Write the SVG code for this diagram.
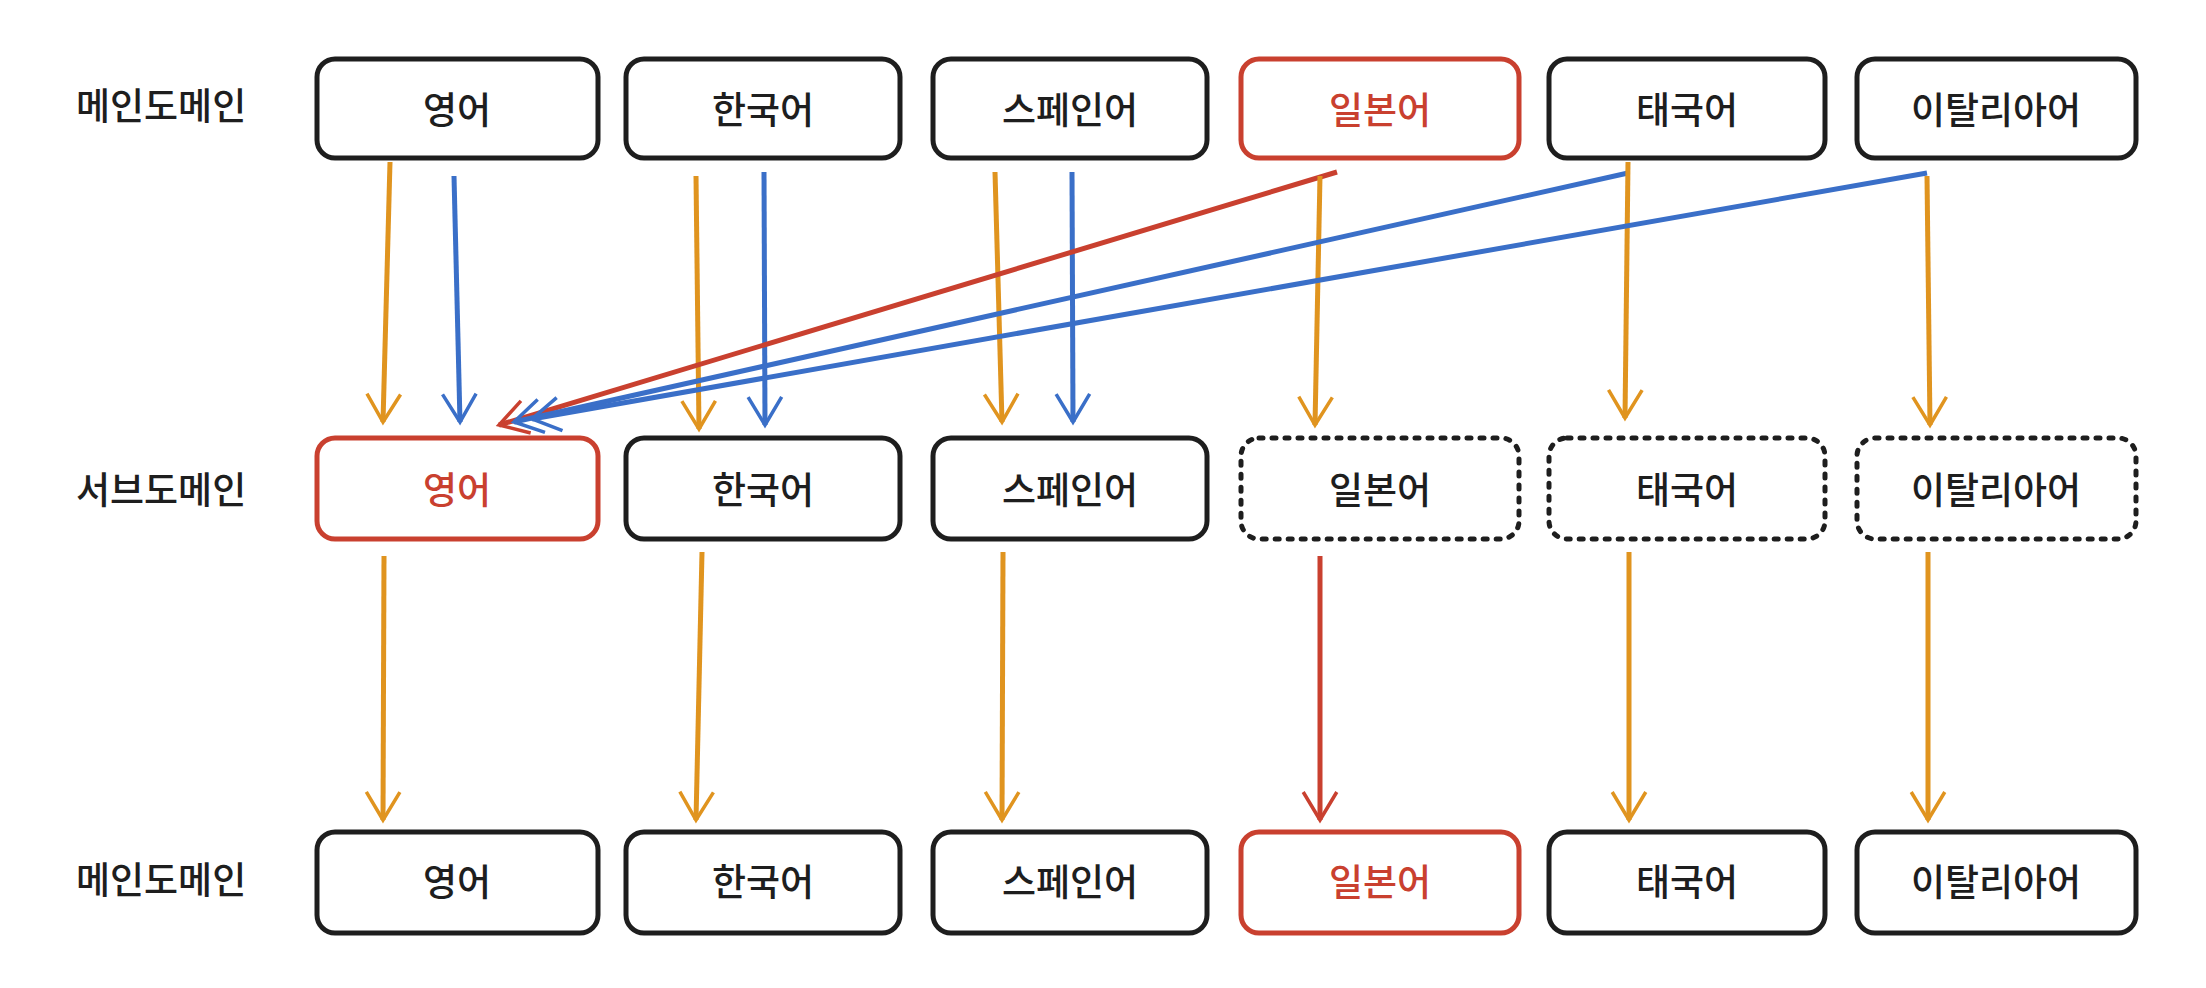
<svg xmlns="http://www.w3.org/2000/svg" width="2206" height="988" viewBox="0 0 2206 988">
<style>
.b{fill:#fff;stroke:#1e1e1e;stroke-width:5}
.r{fill:#fff;stroke:#c9402f;stroke-width:5}
.d{fill:#fff;stroke:#1e1e1e;stroke-width:5;stroke-dasharray:4 9;stroke-linecap:round}
text{font-family:"Noto Sans CJK KR",sans-serif;font-size:37px;font-weight:500;text-anchor:middle;dominant-baseline:central;fill:#1e1e1e}
.rt{fill:#c9402f}
.lab{text-anchor:start}
.o{stroke:#e0941f;stroke-width:5;fill:none;marker-end:url(#mo)}
.bl{stroke:#3a6fc8;stroke-width:5;fill:none;marker-end:url(#mb)}
.rd{stroke:#c9402f;stroke-width:5;fill:none;marker-end:url(#mr)}
</style>
<defs>
<marker id="mo" viewBox="0 0 20 20" refX="18" refY="10" markerWidth="14" markerHeight="14" markerUnits="userSpaceOnUse" orient="auto" overflow="visible"><path d="M-40,-14 L0,10 L-40,34" transform="translate(18,0)" fill="none" stroke="#e0941f" stroke-width="5"/></marker>
<marker id="mb" viewBox="0 0 20 20" refX="18" refY="10" markerWidth="14" markerHeight="14" markerUnits="userSpaceOnUse" orient="auto" overflow="visible"><path d="M-40,-14 L0,10 L-40,34" transform="translate(18,0)" fill="none" stroke="#3a6fc8" stroke-width="5"/></marker>
<marker id="mr" viewBox="0 0 20 20" refX="18" refY="10" markerWidth="14" markerHeight="14" markerUnits="userSpaceOnUse" orient="auto" overflow="visible"><path d="M-40,-14 L0,10 L-40,34" transform="translate(18,0)" fill="none" stroke="#c9402f" stroke-width="5"/></marker>
</defs>
<g id="labels">
<text class="lab" x="76" y="104">메인도메인</text>
<text class="lab" x="76" y="488">서브도메인</text>
<text class="lab" x="76" y="878">메인도메인</text>
</g>
<g id="connectors">
<path class="o" d="M390,162 L383,422"/><path class="bl" d="M454,176 L460,422"/>
<path class="o" d="M696,176 L699,429"/><path class="bl" d="M764,172 L765,425"/>
<path class="o" d="M995,172 L1002,422"/><path class="bl" d="M1072,172 L1073,422"/>
<path class="rd" d="M1337,172 L499,425"/>
<path class="o" d="M1320,176 L1315,425"/>
<path class="bl" d="M1628,173 L514,422"/><path class="o" d="M1628,162 L1625,418"/>
<path class="bl" d="M1927,173 L532,419"/><path class="o" d="M1927,176 L1930,425"/>
<path class="o" d="M384,556 L383,820"/><path class="o" d="M702,552 L696,820"/>
<path class="o" d="M1003,552 L1002,820"/><path class="rd" d="M1320,556 L1320,820"/>
<path class="o" d="M1629,552 L1629,820"/><path class="o" d="M1928,552 L1928,820"/>
</g>
<g id="t1"><rect class="b" x="317" y="59" width="281" height="99" rx="18"/><text x="457" y="108">영어</text></g>
<g id="t2"><rect class="b" x="626" y="59" width="274" height="99" rx="18"/><text x="763" y="108">한국어</text></g>
<g id="t3"><rect class="b" x="933" y="59" width="274" height="99" rx="18"/><text x="1070" y="108">스페인어</text></g>
<g id="t4"><rect class="r" x="1241" y="59" width="278" height="99" rx="18"/><text class="rt" x="1380" y="108">일본어</text></g>
<g id="t5"><rect class="b" x="1549" y="59" width="276" height="99" rx="18"/><text x="1687" y="108">태국어</text></g>
<g id="t6"><rect class="b" x="1857" y="59" width="279" height="99" rx="18"/><text x="1996" y="108">이탈리아어</text></g>
<g id="m1"><rect class="r" x="317" y="438" width="281" height="101" rx="18"/><text class="rt" x="457" y="488">영어</text></g>
<g id="m2"><rect class="b" x="626" y="438" width="274" height="101" rx="18"/><text x="763" y="488">한국어</text></g>
<g id="m3"><rect class="b" x="933" y="438" width="274" height="101" rx="18"/><text x="1070" y="488">스페인어</text></g>
<g id="m4"><rect class="d" x="1241" y="438" width="278" height="101" rx="18"/><text x="1380" y="488">일본어</text></g>
<g id="m5"><rect class="d" x="1549" y="438" width="276" height="101" rx="18"/><text x="1687" y="488">태국어</text></g>
<g id="m6"><rect class="d" x="1857" y="438" width="279" height="101" rx="18"/><text x="1996" y="488">이탈리아어</text></g>
<g id="b1"><rect class="b" x="317" y="832" width="281" height="101" rx="18"/><text x="457" y="880">영어</text></g>
<g id="b2"><rect class="b" x="626" y="832" width="274" height="101" rx="18"/><text x="763" y="880">한국어</text></g>
<g id="b3"><rect class="b" x="933" y="832" width="274" height="101" rx="18"/><text x="1070" y="880">스페인어</text></g>
<g id="b4"><rect class="r" x="1241" y="832" width="278" height="101" rx="18"/><text class="rt" x="1380" y="880">일본어</text></g>
<g id="b5"><rect class="b" x="1549" y="832" width="276" height="101" rx="18"/><text x="1687" y="880">태국어</text></g>
<g id="b6"><rect class="b" x="1857" y="832" width="279" height="101" rx="18"/><text x="1996" y="880">이탈리아어</text></g>
</svg>
